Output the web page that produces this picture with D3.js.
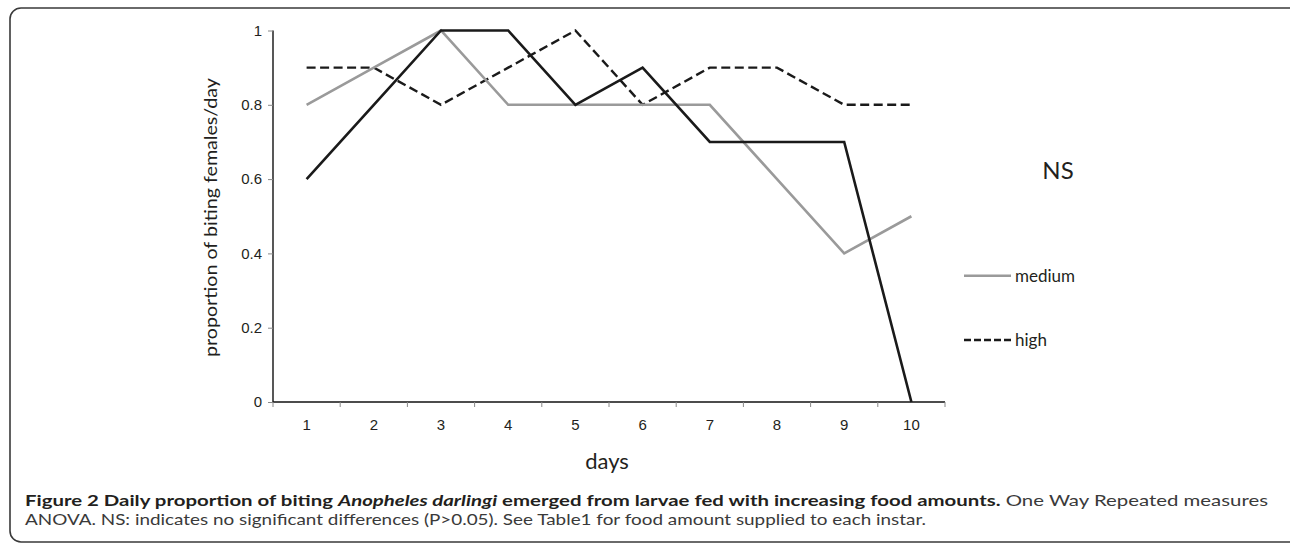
<!DOCTYPE html>
<html>
<head>
<meta charset="utf-8">
<script src="https://cdn.jsdelivr.net/npm/d3@7"></script>
<style>
  html, body { margin: 0; padding: 0; background: #fff; }
  svg { display: block; }
</style>
</head>
<body>
<svg id="chart" width="1290" height="544"></svg>
<script>
// ---- data ----
const days = [1, 2, 3, 4, 5, 6, 7, 8, 9, 10];
const yTicks = [0, 0.2, 0.4, 0.6, 0.8, 1];
const lowValues    = [0.6, 0.8, 1.0, 1.0, 0.8, 0.9, 0.7, 0.7, 0.7, 0.0];
const mediumValues = [0.8, 0.9, 1.0, 0.8, 0.8, 0.8, 0.8, 0.6, 0.4, 0.5];
const highValues   = [0.9, 0.9, 0.8, 0.9, 1.0, 0.8, 0.9, 0.9, 0.8, 0.8];
const legendLabels = ["medium", "high"];
const yAxisTitle = "proportion of biting females/day";
const xAxisTitle = "days";
const noteText = "NS";

const svg = d3.select("#chart");

// frame
svg.append("rect")
  .attr("x", 10).attr("y", 8)
  .attr("width", 1300).attr("height", 534)
  .attr("rx", 11).attr("ry", 11)
  .attr("fill", "none").attr("stroke", "#3a3a3a").attr("stroke-width", 1.6);

const x = d3.scaleBand().domain(days).range([273, 945]).padding(0);
const y = d3.scaleLinear().domain([0, 1]).range([402, 30.5]);
const cx = d => x(d) + x.bandwidth() / 2;

const tickFont = "'Liberation Sans', Arial, sans-serif";

// y axis
const yAxis = svg.append("g").attr("transform", "translate(273,0)")
  .call(d3.axisLeft(y).tickValues(yTicks).tickSize(5).tickPadding(6)
    .tickFormat(d => d === 0 ? "0" : d === 1 ? "1" : d3.format(".1f")(d)));
yAxis.attr("font-size", null).attr("font-family", null);
yAxis.select(".domain").attr("stroke", "#111").attr("stroke-width", 1.4).attr("d", "M0,30.5V402");
yAxis.selectAll(".tick line").attr("stroke", "#888").attr("stroke-width", 1);
yAxis.selectAll(".tick text")
  .style("font-family", tickFont)
  .style("font-size", "15px").attr("fill", "#231f20");

// x axis
const xAxis = svg.append("g").attr("transform", "translate(0,402)")
  .call(d3.axisBottom(x).tickSize(0).tickPadding(17));
xAxis.attr("font-size", null).attr("font-family", null);
xAxis.select(".domain").attr("stroke", "#111").attr("stroke-width", 1.4).attr("d", "M273,0H945");
xAxis.selectAll(".tick text")
  .style("font-family", tickFont)
  .style("font-size", "15px").attr("fill", "#231f20");
// boundary ticks between categories
const bounds = days.map(d => x(d)).concat([x(days[days.length - 1]) + x.bandwidth()]);
xAxis.selectAll(".btick").data(bounds).enter().append("line")
  .attr("class", "btick")
  .attr("x1", d => d).attr("x2", d => d)
  .attr("y1", 0).attr("y2", 5)
  .attr("stroke", "#888").attr("stroke-width", 1);

// lines
const lineGen = d3.line().x((v, i) => cx(days[i])).y(v => y(v));

svg.append("path").datum(highValues)
  .attr("d", lineGen).attr("fill", "none")
  .attr("stroke", "#1a1a1a").attr("stroke-width", 2.4)
  .attr("stroke-dasharray", "9,4.5");

svg.append("path").datum(mediumValues)
  .attr("d", lineGen).attr("fill", "none")
  .attr("stroke", "#9a9a9a").attr("stroke-width", 2.6);

svg.append("path").datum(lowValues)
  .attr("d", lineGen).attr("fill", "none")
  .attr("stroke", "#1a1a1a").attr("stroke-width", 2.6);

// legend
const legendY = [275.7, 340];
const legendStyles = [
  { stroke: "#9a9a9a", dash: null },
  { stroke: "#1a1a1a", dash: "7,3" }
];
legendLabels.forEach((lab, i) => {
  svg.append("line")
    .attr("x1", 964).attr("x2", 1011)
    .attr("y1", legendY[i]).attr("y2", legendY[i])
    .attr("stroke", legendStyles[i].stroke).attr("stroke-width", 2.4)
    .attr("stroke-dasharray", legendStyles[i].dash);
  svg.append("text")
    .attr("x", 1015).attr("y", legendY[i] + 6)
    .attr("font-family", "Lato, 'Open Sans', sans-serif")
    .attr("font-size", 17).attr("fill", "#231f20")
    .text(lab);
});

// NS note
svg.append("text")
  .attr("x", 1058).attr("y", 179)
  .attr("text-anchor", "middle")
  .attr("font-family", "Lato, 'Open Sans', sans-serif")
  .attr("font-size", 24).attr("fill", "#231f20")
  .text(noteText);

// axis titles
svg.append("text")
  .attr("transform", "translate(217,217.5) rotate(-90)")
  .attr("text-anchor", "middle")
  .attr("font-family", "Lato, 'Open Sans', sans-serif")
  .attr("font-size", 17).attr("fill", "#231f20")
  .attr("textLength", 279).attr("lengthAdjust", "spacingAndGlyphs")
  .text(yAxisTitle);

svg.append("text")
  .attr("x", 607).attr("y", 469)
  .attr("text-anchor", "middle")
  .attr("font-family", "Lato, 'Open Sans', sans-serif")
  .attr("font-size", 22).attr("fill", "#231f20")
  .text(xAxisTitle);

// caption
const cap1 = svg.append("text")
  .attr("x", 25).attr("y", 506)
  .attr("font-family", "Lato, 'Open Sans', sans-serif")
  .attr("font-size", 16).attr("fill", "#231f20")
  .attr("textLength", 1243).attr("lengthAdjust", "spacingAndGlyphs");
cap1.append("tspan").attr("font-weight", "bold").text("Figure 2 Daily proportion of biting ");
cap1.append("tspan").attr("font-weight", "bold").attr("font-style", "italic").text("Anopheles darlingi");
cap1.append("tspan").attr("font-weight", "bold").text(" emerged from larvae fed with increasing food amounts.");
cap1.append("tspan").attr("fill", "#3a3a3a").text(" One Way Repeated measures");

svg.append("text")
  .attr("x", 25).attr("y", 525)
  .attr("font-family", "Lato, 'Open Sans', sans-serif")
  .attr("font-size", 16).attr("fill", "#3a3a3a")
  .attr("textLength", 901).attr("lengthAdjust", "spacingAndGlyphs")
  .text("ANOVA. NS: indicates no significant differences (P>0.05). See Table1 for food amount supplied to each instar.");
</script>
</body>
</html>
